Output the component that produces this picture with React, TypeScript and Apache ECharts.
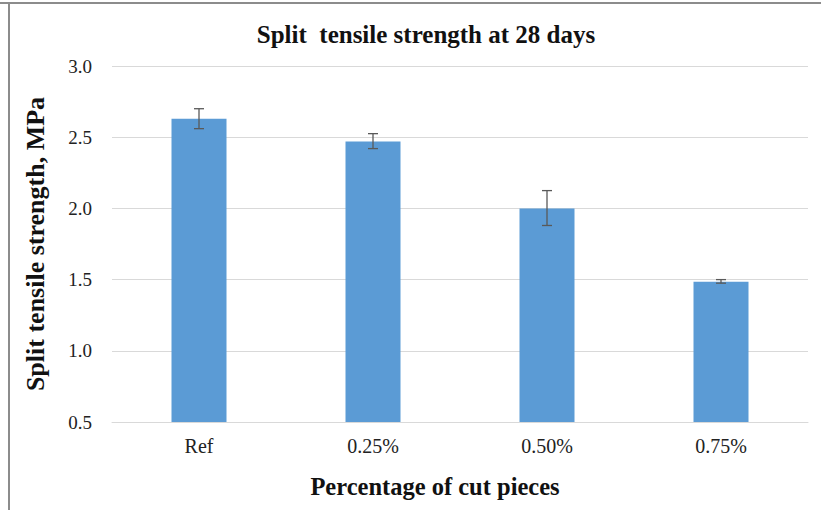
import React, { useEffect, useRef } from "react";
import * as echarts from "echarts";

const categories = ["Ref", "0.25%", "0.50%", "0.75%"];
const strengthValues = [2.63, 2.47, 2.0, 1.485];
const errorLow = [2.56, 2.42, 1.88, 1.475];
const errorHigh = [2.70, 2.525, 2.125, 1.5];

const FONT = "'Liberation Serif', 'Times New Roman', serif";

export default function App() {
  const ref = useRef<HTMLDivElement>(null);
  useEffect(() => {
    if (!ref.current) return;
    const chart = echarts.init(ref.current, null, { renderer: "svg" });
    const errData = categories.map((_, i) => [i, errorLow[i], errorHigh[i]]);
    chart.setOption({
      animation: false,
      backgroundColor: "#ffffff",
      title: {
        text: "Split  tensile strength at 28 days",
        left: 421,
        top: 17,
        textAlign: "center",
        textStyle: { fontFamily: FONT, fontSize: 25, fontWeight: "bold", color: "#111" },
      },
      grid: { left: 112, right: 13, top: 66, bottom: 88 },
      xAxis: {
        type: "category",
        data: categories,
        axisLine: { show: true, lineStyle: { color: "#d9d9d9", width: 1 } },
        axisTick: { show: false },
        axisLabel: { fontFamily: FONT, fontSize: 20, color: "#222", margin: 14 },
        name: "Percentage of cut pieces",
        nameLocation: "middle",
        nameGap: 52,
        nameTextStyle: {
          fontFamily: FONT,
          fontSize: 24.5,
          fontWeight: "bold",
          color: "#111",
          padding: [0, 50, 0, 0],
        },
      },
      yAxis: {
        type: "value",
        min: 0.5,
        max: 3.0,
        interval: 0.5,
        axisLine: { show: false },
        axisTick: { show: false },
        splitLine: { lineStyle: { color: "#d9d9d9", width: 1 } },
        axisLabel: {
          fontFamily: FONT,
          fontSize: 19,
          color: "#222",
          margin: 20,
          formatter: (v: number) => v.toFixed(1),
        },
        name: "Split tensile strength, MPa",
        nameLocation: "middle",
        nameGap: 64,
        nameTextStyle: { fontFamily: FONT, fontSize: 26, fontWeight: "bold", color: "#111" },
      },
      series: [
        {
          type: "bar",
          data: strengthValues,
          barWidth: 55,
          itemStyle: { color: "#5B9BD5" },
        },
        {
          type: "custom",
          data: errData,
          z: 10,
          renderItem: (params: any, api: any) => {
            const x = api.value(0);
            const lo = api.coord([x, api.value(1)]);
            const hi = api.coord([x, api.value(2)]);
            const hw = 5;
            const style = { stroke: "#595959", lineWidth: 1.3 };
            return {
              type: "group",
              children: [
                { type: "line", shape: { x1: hi[0], y1: hi[1], x2: lo[0], y2: lo[1] }, style },
                { type: "line", shape: { x1: hi[0] - hw, y1: hi[1], x2: hi[0] + hw, y2: hi[1] }, style },
                { type: "line", shape: { x1: lo[0] - hw, y1: lo[1], x2: lo[0] + hw, y2: lo[1] }, style },
              ],
            };
          },
        },
      ],
      graphic: [
        { type: "line", shape: { x1: 0, y1: 3, x2: 821, y2: 3 }, style: { stroke: "#8c8c8c", lineWidth: 2 } },
        { type: "line", shape: { x1: 9, y1: 3, x2: 9, y2: 510 }, style: { stroke: "#8c8c8c", lineWidth: 2 } },
      ],
    });
    return () => chart.dispose();
  }, []);
  return (
    <div
      ref={ref}
      style={{ position: "fixed", left: 0, top: 0, width: 821, height: 510 }}
    />
  );
}
